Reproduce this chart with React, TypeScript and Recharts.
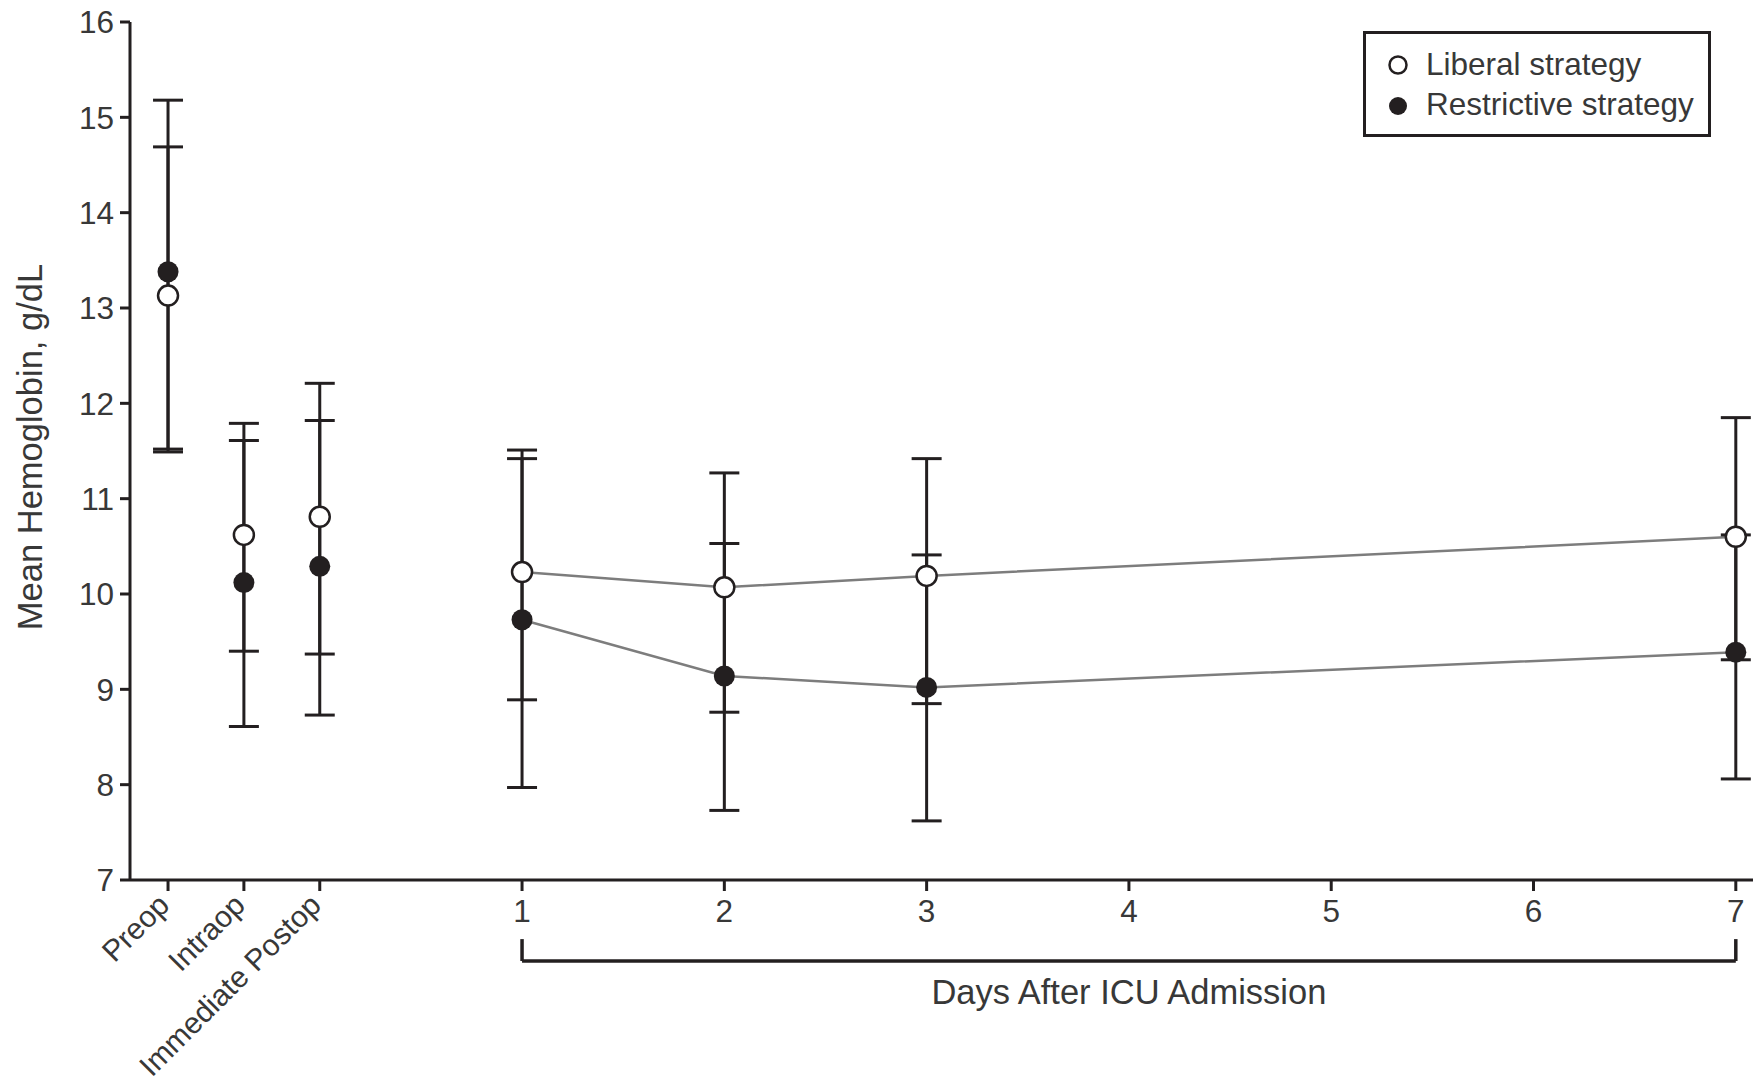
import React from 'react';
import { ComposedChart, Line, XAxis, YAxis, ErrorBar, ReferenceLine, Legend } from 'recharts';

// ---- data ----
const phaseLabels = ['Preop', 'Intraop', 'Immediate Postop'];
const phaseX = [-0.75, -0.375, 0];
const dayTicks = [1, 2, 3, 4, 5, 6, 7];
const measuredDays = [1, 2, 3, 7];
const yTicks = [7, 8, 9, 10, 11, 12, 13, 14, 15, 16];

const liberalMean = [13.13, 10.62, 10.81, 10.23, 10.07, 10.19, 10.6];
const liberalLow = [11.52, 9.4, 9.37, 8.89, 8.76, 8.85, 9.31];
const liberalHigh = [14.69, 11.79, 12.21, 11.51, 11.27, 11.42, 11.85];

const restrictiveMean = [13.38, 10.12, 10.29, 9.73, 9.14, 9.02, 9.39];
const restrictiveLow = [11.49, 8.61, 8.73, 7.97, 7.73, 7.62, 8.06];
const restrictiveHigh = [15.18, 11.61, 11.82, 11.42, 10.53, 10.41, 10.62];

const seriesNames = ['Liberal strategy', 'Restrictive strategy'];
const xAxisTitle = 'Days After ICU Admission';
const yAxisTitle = 'Mean Hemoglobin, g/dL';

// ---- derived table ----
const xPositions = [...phaseX, ...measuredDays];
const data = xPositions.map((x, i) => ({
  x,
  lib: liberalMean[i],
  libErr: [liberalMean[i] - liberalLow[i], liberalHigh[i] - liberalMean[i]],
  libLine: x >= 1 ? liberalMean[i] : null,
  res: restrictiveMean[i],
  resErr: [restrictiveMean[i] - restrictiveLow[i], restrictiveHigh[i] - restrictiveMean[i]],
  resLine: x >= 1 ? restrictiveMean[i] : null,
}));
const xTicks = [...phaseX, ...dayTicks];

const INK = '#231f20';
const TEXT = '#383838';
const FONT = '"Liberation Sans", Arial, Helvetica, sans-serif';
const TICK_FS = 31.5;

const XTick = (props: any) => {
  const { x, y, payload } = props;
  const v = payload.value;
  const idx = phaseX.indexOf(v);
  if (idx >= 0) {
    const ax = x + 3;
    const ay = y + 14;
    return (
      <text x={ax} y={ay} transform={`rotate(-45, ${ax}, ${ay})`} textAnchor="end" fill={TEXT} fontSize={30} fontFamily={FONT}>
        {phaseLabels[idx]}
      </text>
    );
  }
  return (
    <text x={x} y={y + 29} textAnchor="middle" fill={TEXT} fontSize={TICK_FS} fontFamily={FONT}>
      {String(v)}
    </text>
  );
};

const YLabel = (props: any) => {
  const vb = props.viewBox || { x: 0, y: 22, width: 130, height: 858 };
  const cx = 42;
  const cy = vb.y + vb.height / 2 - 4;
  return (
    <text x={cx} y={cy} transform={`rotate(-90, ${cx}, ${cy})`} textAnchor="middle" fill={TEXT} fontSize={34.5} fontFamily={FONT}>
      {yAxisTitle}
    </text>
  );
};

const LegendBox = () => (
  <svg width={349} height={107} style={{ display: 'block' }}>
    <rect x={1.5} y={1.5} width={345} height={103} fill="#fff" stroke={INK} strokeWidth={3} />
    <circle cx={35} cy={34} r={8.5} fill="#fff" stroke={INK} strokeWidth={2.5} />
    <text x={63} y={44} fill={TEXT} fontSize={TICK_FS} fontFamily={FONT}>{seriesNames[0]}</text>
    <circle cx={35} cy={75} r={9} fill={INK} />
    <text x={63} y={84} fill={TEXT} fontSize={TICK_FS} fontFamily={FONT}>{seriesNames[1]}</text>
  </svg>
);

const openDot = (p: any) => (
  <circle key={`o-${p.index}`} cx={p.cx} cy={p.cy} r={10} fill="#fff" stroke={INK} strokeWidth={2.5} />
);
const filledDot = (p: any) => (
  <circle key={`f-${p.index}`} cx={p.cx} cy={p.cy} r={10.5} fill={INK} />
);

export default function App() {
  return (
    <div style={{ position: 'absolute', left: 0, top: 0, width: 1753, height: 1090, background: '#fff' }}>
      <ComposedChart width={1753} height={1090} data={data} margin={{ top: 22, right: 0, bottom: 0, left: 0 }}>
        <XAxis
          type="number"
          dataKey="x"
          domain={[-0.938, 7.085]}
          allowDataOverflow
          ticks={xTicks}
          interval={0}
          tick={<XTick />}
          tickSize={11}
          tickLine={{ stroke: INK, strokeWidth: 3 }}
          axisLine={{ stroke: INK, strokeWidth: 3 }}
          height={210}
        />
        <YAxis
          type="number"
          domain={[7, 16]}
          allowDataOverflow
          ticks={yTicks}
          interval={0}
          width={130}
          tickSize={10}
          tickMargin={6}
          tick={{ fill: TEXT, fontSize: TICK_FS, fontFamily: FONT }}
          tickLine={{ stroke: INK, strokeWidth: 3 }}
          axisLine={{ stroke: INK, strokeWidth: 3 }}
          label={<YLabel />}
        />
        <ReferenceLine segment={[{ x: 1, y: 6.38 }, { x: 1, y: 6.15 }]} ifOverflow="visible" stroke={INK} strokeWidth={3.5} />
        <ReferenceLine
          segment={[{ x: 1, y: 6.15 }, { x: 7, y: 6.15 }]}
          ifOverflow="visible"
          stroke={INK}
          strokeWidth={3.5}
          label={{ value: xAxisTitle, position: 'bottom', offset: 18, fill: TEXT, fontSize: 34.5, fontFamily: FONT }}
        />
        <ReferenceLine segment={[{ x: 7, y: 6.15 }, { x: 7, y: 6.38 }]} ifOverflow="visible" stroke={INK} strokeWidth={3.5} />

        <Line dataKey="resLine" stroke="#7d7d7d" strokeWidth={2.5} dot={false} activeDot={false} isAnimationActive={false} legendType="none" />
        <Line dataKey="libLine" stroke="#7d7d7d" strokeWidth={2.5} dot={false} activeDot={false} isAnimationActive={false} legendType="none" />

        <Line dataKey="res" name={seriesNames[1]} stroke="none" dot={filledDot} activeDot={false} isAnimationActive={false}>
          <ErrorBar dataKey="resErr" direction="y" width={15} stroke={INK} strokeWidth={3} isAnimationActive={false} />
        </Line>
        <Line dataKey="lib" name={seriesNames[0]} stroke="none" dot={openDot} activeDot={false} isAnimationActive={false}>
          <ErrorBar dataKey="libErr" direction="y" width={15} stroke={INK} strokeWidth={3} isAnimationActive={false} />
        </Line>

        <Legend
          layout="vertical"
          align="center"
          verticalAlign="middle"
          wrapperStyle={{ position: 'absolute', left: 1363, top: 31, width: 349, height: 107 }}
          content={() => <LegendBox />}
        />
      </ComposedChart>
    </div>
  );
}
